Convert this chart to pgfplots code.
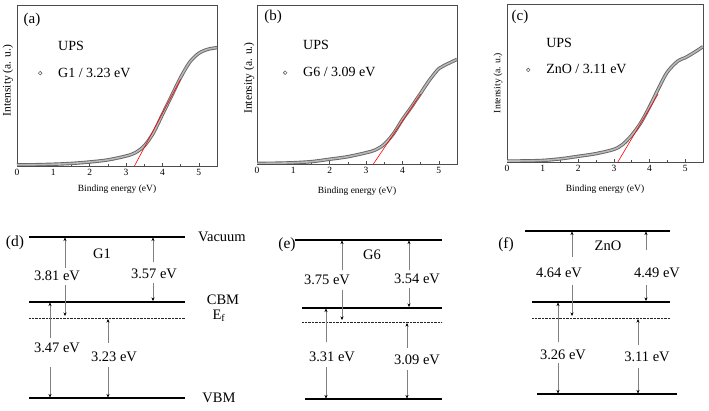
\documentclass[border=0pt]{standalone}
\usepackage{fontspec}
\setmainfont{Liberation Serif}
\usepackage{pgfplots}
\pgfplotsset{compat=1.18}
\usepackage{pgfplotstable}
\usetikzlibrary{arrows.meta}

\pgfplotstableread{
x y
0 0.007
0.5 0.008
1 0.011
1.5 0.016
2 0.025
2.5 0.038
3 0.062
3.25 0.082
3.5 0.125
3.75 0.205
4 0.32
4.25 0.435
4.5 0.55
4.75 0.645
5 0.70
5.25 0.725
5.5 0.735
}\dataA

\pgfplotstableread{
x y
0 0.004
0.5 0.005
1 0.008
1.5 0.015
2 0.03
2.5 0.046
3 0.071
3.25 0.088
3.5 0.124
3.75 0.19
4 0.28
4.25 0.36
4.5 0.445
4.75 0.53
5 0.60
5.15 0.62
5.5 0.658
}\dataB

\pgfplotstableread{
x y
0 0.006
0.5 0.007
1 0.01
1.5 0.02
2 0.036
2.5 0.053
3 0.08
3.25 0.112
3.5 0.17
3.75 0.247
4 0.35
4.25 0.465
4.5 0.57
4.8 0.64
5 0.66
5.25 0.693
5.5 0.73
}\dataC

\pgfplotsset{
  upsaxis/.style={
    scale only axis, anchor=south west,
    xmin=0, xmax=5.5, ymin=0, ymax=1,
    ytick=\empty, xtick={0,1,2,3,4,5}, minor x tick num=1,
    xtick pos=bottom,
    tick label style={font=\fontsize{9.5}{10}\selectfont},
    /pgf/number format/assume math mode=true,
    major tick length=3pt, minor tick length=1.5pt,
    axis line style={black!70, line width=0.5pt},
    every tick/.style={black!70, line width=0.5pt},
    xlabel={Binding energy (eV)}, ylabel={Intensity (a. u.)},
    xlabel style={font=\fontsize{9.5}{11}\selectfont, anchor=center},
    ylabel style={anchor=center},
    legend style={draw=none, fill=none, font=\fontsize{14}{16}\selectfont,
      anchor=north west, inner xsep=0pt, inner ysep=0pt, row sep=12pt},
    legend cell align=left,
  },
  circimg/.style={legend image code/.code={
      \path[draw=none,fill=none] (0pt,-1pt) rectangle (20pt,1pt);
      \draw[black!60, line width=0.6pt, fill=none, -] (4pt,0pt) circle (1.8pt);}},
  bandout/.style={black!60, line width=3.4pt, smooth, no markers, forget plot},
  bandin/.style={black!28, line width=1.6pt, smooth, no markers, forget plot},
  fitline/.style={red, line width=0.6pt, no markers, forget plot},
  lvl/.style={black, line width=1.1pt, no markers},
  fermi/.style={black!85, line width=0.8pt, dash pattern=on 0.7pt off 0.7pt, no markers},
  arr/.style={black!50, line width=0.5pt, no markers, -{Stealth[length=3.5pt,width=3pt,color=black]}},
}

\newcommand{\lbl}{\fontsize{14.5}{16}\selectfont}
\newcommand{\plbl}{\fontsize{15.5}{17}\selectfont}

\begin{document}
\begin{tikzpicture}[x=1pt,y=1pt]
\path[use as bounding box] (0,0) rectangle (709,-411);

% ---------------- (a)
\begin{axis}[upsaxis, at={(17pt,-166pt)}, width=200pt, height=161pt,
  xlabel style={at={(axis description cs:0.5,-0.143)}},
  ylabel style={font=\fontsize{11.5}{13}\selectfont, at={(axis description cs:-0.045,0.53)}},
  legend style={at={(axis description cs:0.095,0.79)}}]
\addlegendimage{empty legend}\addlegendentry{UPS}
\addlegendimage{circimg}\addlegendentry{G1 / 3.23 eV}
\addplot[bandout] table {\dataA};
\addplot[bandin] table {\dataA};
\addplot[fitline] coordinates {(3.23,0) (4.5,0.54)};
\node[font=\fontsize{15}{17}\selectfont] at (axis description cs:0.075,0.907) {(a)};
\end{axis}

% ---------------- (b)
\begin{axis}[upsaxis, at={(257pt,-164pt)}, width=200pt, height=159pt,
  xlabel style={at={(axis description cs:0.5,-0.17)}},
  ylabel style={font=\fontsize{11.5}{13}\selectfont, at={(axis description cs:-0.04,0.54)}},
  legend style={at={(axis description cs:0.12,0.79)}}]
\addlegendimage{empty legend}\addlegendentry{UPS}
\addlegendimage{circimg}\addlegendentry{G6 / 3.09 eV}
\addplot[bandout] table {\dataB};
\addplot[bandin] table {\dataB};
\addplot[fitline] coordinates {(3.2,0) (4.5,0.44)};
\node[font=\fontsize{15}{17}\selectfont] at (axis description cs:0.08,0.925) {(b)};
\end{axis}

% ---------------- (c)
\begin{axis}[upsaxis, at={(507pt,-162pt)}, width=196pt, height=158pt,
  xlabel style={at={(axis description cs:0.5,-0.17)}},
  ylabel style={font=\fontsize{9.7}{11}\selectfont, at={(axis description cs:-0.046,0.50)}},
  legend style={at={(axis description cs:0.087,0.80)}}]
\addlegendimage{empty legend}\addlegendentry{UPS}
\addlegendimage{circimg}\addlegendentry{ZnO / 3.11 eV}
\addplot[bandout] table {\dataC};
\addplot[bandin] table {\dataC};
\addplot[fitline] coordinates {(3.11,0) (4.24,0.43)};
\node[font=\fontsize{15}{17}\selectfont] at (axis description cs:0.066,0.918) {(c)};
\end{axis}

% ---------------- energy diagrams (d)(e)(f)
\begin{axis}[at={(0pt,-411pt)}, anchor=south west, scale only axis,
  width=709pt, height=201pt, xmin=0, xmax=709, ymin=-411, ymax=-210,
  hide axis, clip=false]
% (d)
\addplot[lvl] coordinates {(29,-237) (185,-237)};
\addplot[lvl] coordinates {(29,-302) (185,-302)};
\addplot[fermi] coordinates {(29,-318) (185,-318)};
\addplot[lvl] coordinates {(29,-398) (185,-398)};
\addplot[arr] coordinates {(65,-268) (65,-237.5)};
\addplot[arr] coordinates {(65,-285) (65,-316)};
\addplot[arr] coordinates {(153,-262) (153,-237.5)};
\addplot[arr] coordinates {(153,-283) (153,-301)};
\addplot[arr] coordinates {(50,-338) (50,-302.5)};
\addplot[arr] coordinates {(50,-367) (50,-397.5)};
\addplot[arr] coordinates {(108,-343) (108,-319)};
\addplot[arr] coordinates {(108,-367) (108,-397.5)};
\node[font=\lbl] at (axis cs:57,-276) {3.81 eV};
\node[font=\lbl] at (axis cs:154,-274) {3.57 eV};
\node[font=\lbl] at (axis cs:57,-348) {3.47 eV};
\node[font=\lbl] at (axis cs:114,-357) {3.23 eV};
\node[font=\lbl] at (axis cs:102,-254) {G1};
\node[font=\plbl] at (axis cs:15,-243) {(d)};
\node[font=\lbl] at (axis cs:222,-237) {Vacuum};
\node[font=\lbl] at (axis cs:223,-300) {CBM};
\node[font=\lbl] at (axis cs:219,-316) {E\textsubscript{f}};
\node[font=\lbl] at (axis cs:219,-398) {VBM};
% (e)
\addplot[lvl] coordinates {(295,-240) (442,-240)};
\addplot[lvl] coordinates {(302,-308) (442,-308)};
\addplot[fermi] coordinates {(302,-322) (442,-322)};
\addplot[lvl] coordinates {(305,-399) (442,-399)};
\addplot[arr] coordinates {(342,-270) (342,-240.5)};
\addplot[arr] coordinates {(342,-290) (342,-320)};
\addplot[arr] coordinates {(409,-270) (409,-240.5)};
\addplot[arr] coordinates {(409,-288) (409,-307)};
\addplot[arr] coordinates {(326,-342) (326,-308.5)};
\addplot[arr] coordinates {(326,-367) (326,-398.5)};
\addplot[arr] coordinates {(407,-348) (407,-323)};
\addplot[arr] coordinates {(407,-370) (407,-398.5)};
\node[font=\lbl] at (axis cs:327,-280) {3.75 eV};
\node[font=\lbl] at (axis cs:417,-279) {3.54 eV};
\node[font=\lbl] at (axis cs:332,-357) {3.31 eV};
\node[font=\lbl] at (axis cs:417,-360) {3.09 eV};
\node[font=\lbl] at (axis cs:372,-255) {G6};
\node[font=\plbl] at (axis cs:287,-245) {(e)};
% (f)
\addplot[lvl] coordinates {(525,-231) (670,-231)};
\addplot[lvl] coordinates {(532,-302) (670,-302)};
\addplot[fermi] coordinates {(532,-318) (670,-318)};
\addplot[lvl] coordinates {(537,-394) (677,-394)};
\addplot[arr] coordinates {(572,-257) (572,-231.5)};
\addplot[arr] coordinates {(572,-285) (572,-316)};
\addplot[arr] coordinates {(646,-250) (646,-231.5)};
\addplot[arr] coordinates {(646,-285) (646,-301)};
\addplot[arr] coordinates {(558,-342) (558,-302.5)};
\addplot[arr] coordinates {(558,-363) (558,-393.5)};
\addplot[arr] coordinates {(638,-345) (638,-319)};
\addplot[arr] coordinates {(638,-368) (638,-393.5)};
\node[font=\lbl] at (axis cs:559,-273) {4.64 eV};
\node[font=\lbl] at (axis cs:657,-273) {4.49 eV};
\node[font=\lbl] at (axis cs:563,-355) {3.26 eV};
\node[font=\lbl] at (axis cs:647,-357) {3.11 eV};
\node[font=\lbl] at (axis cs:608,-246) {ZnO};
\node[font=\plbl] at (axis cs:506,-245) {(f)};
\end{axis}
\end{tikzpicture}
\end{document}
